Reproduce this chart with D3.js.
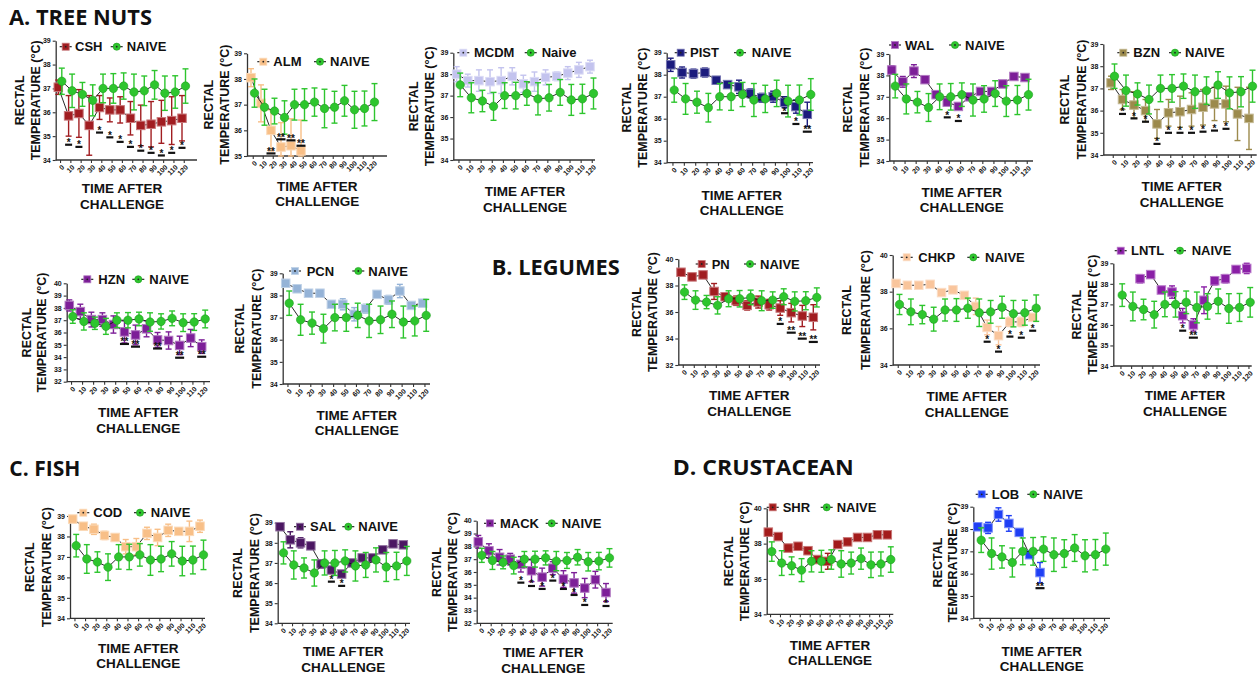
<!DOCTYPE html>
<html><head><meta charset="utf-8">
<script src="https://cdn.jsdelivr.net/npm/d3@7"></script>
<style>
body{margin:0;background:#fff}
svg{display:block}
text{font-family:'Liberation Sans',Arial,Helvetica,sans-serif;font-weight:bold;fill:#111}
.sec{font-family:'Open Sans','Noto Sans',sans-serif;font-weight:bold}
</style>
</head><body>
<svg id="c" width="1260" height="677"></svg>
<script>
// ---------- DATA ----------
const TIMES = [0,10,20,30,40,50,60,70,80,90,100,110,120];
const TIME_TICK_LABELS = TIMES.map(String);

const NAIVE_MEAN = [37.5,36.9,36.75,36.5,37.0,37.0,37.1,36.85,36.9,37.15,36.8,36.85,37.1];
const NAIVE_ERR  = [0.55,0.7,0.5,0.65,0.6,0.62,0.55,0.75,0.62,0.6,0.72,0.68,0.72];
// naive value at t=0 as read in each panel (order of PANEL_KEYS)
const PANEL_KEYS = ['CSH','ALM','MCDM','PIST','WAL','BZN','HZN','PCN','PN','CHKP','LNTL','COD','SAL','MACK','SHR','LOB'];
const NAIVE_AT_0 = [37.3,37.45,37.5,37.3,37.5,37.55,37.3,37.65,37.5,37.3,37.45,37.55,37.5,37.3,37.55,37.5];

const CSH_MEAN = [37.05,35.85,35.95,35.45,36.2,36.1,36.1,35.75,35.45,35.5,35.6,35.65,35.75];
const CSH_ERR  = [0.3,0.85,1.0,1.25,0.5,0.5,0.55,0.7,0.85,0.95,0.9,1.0,0.95];
const CSH_SIG  = [[1,'*',34.64],[2,'*',34.55],[4,'*',35.15],[5,'*',34.95],[6,'*',34.76],[7,'*',34.55],[8,'*',34.39],[9,'*',34.3],[10,'*',34.19],[11,'*',34.3],[12,'*',34.51]];

const ALM_MEAN = [38.05,37.05,36.0,35.35,35.4,35.2,null,null,null,null,null,null,null];
const ALM_ERR  = [0.35,0.72,0.8,0.95,1.05,1.2,null,null,null,null,null,null,null];
const ALM_SIG  = [[2,'**',35.1],[3,'**',35.65],[4,'**',35.61],[5,'**',35.4]];

const MCDM_MEAN = [38.0,37.7,37.7,37.65,37.7,37.9,37.55,37.65,37.85,37.9,38.05,38.2,38.35];
const MCDM_ERR  = [0.35,0.3,0.5,0.55,0.6,0.4,0.4,0.45,0.35,0.2,0.3,0.35,0.3];
const MCDM_SIG  = [];

const PIST_MEAN = [38.45,38.1,38.05,38.1,37.75,37.55,37.45,37.15,36.95,37.0,36.75,36.55,36.2];
const PIST_ERR  = [0.3,0.25,0.2,0.2,0.1,0.15,0.3,0.2,0.2,0.25,0.25,0.3,0.55];
const PIST_SIG  = [[10,'*',36.25],[11,'*',35.76],[12,'**',35.41]];

const WAL_MEAN = [38.25,37.7,38.2,37.8,37.1,36.75,36.55,37.0,37.25,37.25,37.6,37.95,37.9];
const WAL_ERR  = [0.2,0.25,0.3,0.1,0.15,0.1,0.1,0.15,0.1,0.1,0.15,0.1,0.1];
const WAL_SIG  = [[5,'*',36.04],[6,'*',35.87]];

const BZN_MEAN = [37.25,36.5,36.25,36.0,35.4,35.9,35.95,36.05,36.15,36.3,36.3,35.85,35.65];
const BZN_ERR  = [0.3,0.45,0.6,0.5,0.65,0.6,0.7,0.75,0.8,0.75,0.8,1.2,1.4];
const BZN_SIG  = [[1,'*',35.85],[2,'*',35.65],[3,'*',35.5],[4,'*',34.5],[5,'*',35.0],[6,'*',35.0],[7,'*',35.0],[8,'*',35.05],[9,'*',35.1],[10,'*',35.18]];

const HZN_MEAN = [38.2,37.7,37.05,37.05,36.65,36.05,35.8,36.3,35.4,35.35,34.95,35.55,34.85];
const HZN_ERR  = [0.45,0.6,0.6,0.55,0.7,0.9,0.8,0.65,0.6,0.7,0.75,0.7,0.55];
const HZN_SIG  = [[5,'**',35.07],[6,'**',34.85],[8,'**',34.7],[10,'**',33.95],[12,'**',34.03]];

const PCN_MEAN = [38.55,38.3,38.1,38.1,37.6,37.6,37.15,37.4,38.05,37.8,38.2,37.55,37.65];
const PCN_ERR  = [0.1,0.1,0.1,0.15,0.15,0.25,0.3,0.2,0.05,0.2,0.3,0.05,0.05];
const PCN_SIG  = [];

const PN_MEAN = [39.0,38.65,38.8,37.55,37.15,36.85,36.5,36.75,36.55,36.3,35.95,35.7,35.6];
const PN_ERR  = [0.15,0.15,0.15,0.6,0.15,0.35,0.35,0.45,0.4,0.55,0.7,0.8,0.95];
const PN_SIG  = [[9,'*',35.1],[10,'**',34.44],[11,'**',33.99],[12,'**',33.74]];

const CHKP_MEAN = [38.45,38.35,38.35,38.4,37.95,38.1,37.8,37.2,36.05,35.6,36.35,36.35,36.6];
const CHKP_ERR  = [0.05,0.1,0.1,0.1,0.1,0.1,0.1,0.45,0.4,0.5,0.25,0.25,0.15];
const CHKP_SIG  = [[8,'*',35.27],[9,'*',34.73],[10,'*',35.55],[11,'*',35.49],[12,'*',35.87]];

const LNTL_MEAN = [null,null,38.25,38.45,37.7,37.6,36.45,36.0,37.2,38.15,38.25,38.7,38.75];
const LNTL_ERR  = [null,null,0.2,0.1,0.05,0.3,0.35,0.3,0.65,0.2,0.2,0.15,0.25];
const LNTL_SIG  = [[6,'*',35.72],[7,'**',35.38]];

const COD_MEAN = [38.85,38.5,38.35,38.05,37.95,37.5,37.5,38.15,37.95,38.3,38.25,38.25,38.5];
const COD_ERR  = [0.05,0.1,0.25,0.2,0.1,0.35,0.4,0.3,0.4,0.3,0.15,0.5,0.3];
const COD_SIG  = [];

const SAL_MEAN = [38.8,38.15,38.0,37.85,36.95,36.65,36.45,37.0,37.25,37.25,37.65,37.95,37.9];
const SAL_ERR  = [0.15,0.4,0.25,0.15,0.2,0.1,0.15,0.1,0.1,0.1,0.15,0.1,0.1];
const SAL_SIG  = [[5,'*',36.07],[6,'*',35.86]];

const MACK_MEAN = [38.35,37.65,37.15,37.0,36.6,36.1,35.6,36.3,35.45,35.15,34.75,35.4,34.4];
const MACK_ERR  = [0.5,0.55,0.6,0.45,0.6,0.85,0.7,0.5,0.65,0.8,0.75,0.65,0.7];
const MACK_SIG  = [[4,'*',35.17],[5,'*',34.91],[6,'*',34.68],[7,'*',35.33],[8,'*',34.68],[9,'*',34.21],[10,'*',33.43],[12,'*',33.35]];

const SHR_MEAN = [38.65,38.4,37.75,37.85,37.6,37.1,37.0,37.95,38.1,38.35,38.35,38.5,38.5];
const SHR_ERR  = [0.05,0.05,0.15,0.2,0.15,0.15,0.45,0.05,0.15,0.15,0.05,0.05,0.05];
const SHR_SIG  = [];

const LOB_MEAN = [38.1,38.05,38.65,38.25,37.85,36.85,36.05,null,null,null,null,null,null];
const LOB_ERR  = [0.1,0.25,0.3,0.35,0.1,0.15,0.45,null,null,null,null,null,null];
const LOB_SIG  = [[6,'**',35.35]];

const SECTION_TITLES = ['A. TREE NUTS','B. LEGUMES','C. FISH','D. CRUSTACEAN'];

// ---------- LAYOUT / STYLE ----------
const GREEN = '#2ec52e', GREEN_EDGE = '#1f9f1f';
const PANELS = [
 {key:'CSH', mean:CSH_MEAN, err:CSH_ERR, sig:CSH_SIG, color:'#a11d21', naiveName:'NAIVE', dom:[34,39], step:1,
  ax:55.7, top:40.7, bot:160, x0:58.3, x1:182, axEnd:197, leg:{y:46.7,m1:65.7,t1:75,m2:116.7,t2:126.7}, tx:122, ty:188.7, yl:[20,36]},
 {key:'ALM', mean:ALM_MEAN, err:ALM_ERR, sig:ALM_SIG, color:'#f8bf87', naiveName:'NAIVE', dom:[35,39], step:1,
  ax:247, top:53.3, bot:156, x0:251, x1:371, axEnd:387, leg:{y:61.7,m1:263.3,t1:273.3,m2:320,t2:330}, tx:317.3, ty:186.3, yl:[209,225]},
 {key:'MCDM', mean:MCDM_MEAN, err:MCDM_ERR, sig:MCDM_SIG, color:'#c3c3ee', naiveName:'Naive', dom:[34,39], step:1,
  ax:453.3, top:52.7, bot:160, x0:456.7, x1:590, axEnd:595, leg:{y:52.7,m1:463.3,t1:474,m2:530.7,t2:541.7}, tx:525, ty:191.7, yl:[414,430]},
 {key:'PIST', mean:PIST_MEAN, err:PIST_ERR, sig:PIST_SIG, color:'#1b1b7d', naiveName:'NAIVE', dom:[34,39], step:1,
  ax:666.7, top:52.7, bot:162.7, x0:670.7, x1:807.3, axEnd:813, leg:{y:52.7,m1:680.7,t1:690,m2:740,t2:751.7}, tx:741.7, ty:195, yl:[626.7,643]},
 {key:'WAL', mean:WAL_MEAN, err:WAL_ERR, sig:WAL_SIG, color:'#7d1f98', naiveName:'NAIVE', dom:[34,39], step:1,
  ax:889.3, top:54, bot:161, x0:891.7, x1:1025, axEnd:1033, leg:{y:45,m1:895,t1:905,m2:955,t2:965}, tx:961.7, ty:192.3, yl:[848,865]},
 {key:'BZN', mean:BZN_MEAN, err:BZN_ERR, sig:BZN_SIG, color:'#9c8a4c', naiveName:'NAIVE', dom:[34,39], step:1,
  ax:1103.3, top:44, bot:155, x0:1111, x1:1249, axEnd:1256.7, leg:{y:52.7,m1:1123.3,t1:1133.3,m2:1175,t2:1185}, tx:1181.7, ty:186.7, yl:[1065,1081.7]},
 {key:'HZN', mean:HZN_MEAN, err:HZN_ERR, sig:HZN_SIG, color:'#7d1f98', naiveName:'NAIVE', dom:[32,40], step:1,
  ax:66.7, top:283.3, bot:381.7, x0:69.3, x1:201.7, axEnd:210, leg:{y:279.3,m1:87.3,t1:98.3,m2:138.3,t2:149.3}, tx:138.3, ty:412.7, yl:[26.7,41.7]},
 {key:'PCN', mean:PCN_MEAN, err:PCN_ERR, sig:PCN_SIG, color:'#95b3d7', naiveName:'NAIVE', dom:[34,39], step:1,
  ax:282.7, top:273.3, bot:384, x0:285.7, x1:422.7, axEnd:430, leg:{y:271,m1:295,t1:306.7,m2:358.3,t2:368.3}, tx:356.7, ty:415, yl:[240,256.7]},
 {key:'PN', mean:PN_MEAN, err:PN_ERR, sig:PN_SIG, color:'#a11d21', naiveName:'NAIVE', dom:[32,40], step:2,
  ax:678.3, top:259, bot:365, x0:681, x1:813.3, axEnd:820, leg:{y:264,m1:701.7,t1:711.7,m2:750,t2:760}, tx:749.3, ty:395.7, yl:[636.7,653.3]},
 {key:'CHKP', mean:CHKP_MEAN, err:CHKP_ERR, sig:CHKP_SIG, color:'#f9c59c', naiveName:'NAIVE', dom:[34,40], step:2,
  ax:892.7, top:255, bot:365, x0:896, x1:1032.7, axEnd:1040, leg:{y:257.3,m1:906.7,t1:918.3,m2:973.3,t2:985}, tx:966.7, ty:396.7, yl:[847,866]},
 {key:'LNTL', mean:LNTL_MEAN, err:LNTL_ERR, sig:LNTL_SIG, color:'#8a1fa6', naiveName:'NAIVE', dom:[34,39], step:1,
  ax:1113.3, top:263.3, bot:366, x0:1118.7, x1:1246.7, axEnd:1251.7, leg:{y:250.7,m1:1120.7,t1:1131,m2:1180,t2:1191.7}, tx:1185, ty:395.7, yl:[1076.7,1093.3]},
 {key:'COD', mean:COD_MEAN, err:COD_ERR, sig:COD_SIG, color:'#f8bf87', naiveName:'NAIVE', dom:[34,39], step:1,
  ax:70, top:516, bot:618.3, x0:72.7, x1:200, axEnd:205, leg:{y:512.7,m1:83.3,t1:93.3,m2:140,t2:150.7}, tx:138.3, ty:648.3, yl:[30,46.7]},
 {key:'SAL', mean:SAL_MEAN, err:SAL_ERR, sig:SAL_SIG, color:'#4b1762', naiveName:'NAIVE', dom:[34,39], step:1,
  ax:277.7, top:522.7, bot:623.3, x0:280, x1:403.3, axEnd:410, leg:{y:526.7,m1:300,t1:310,m2:348.3,t2:358.3}, tx:343.3, ty:651.7, yl:[238.3,255]},
 {key:'MACK', mean:MACK_MEAN, err:MACK_ERR, sig:MACK_SIG, color:'#7d1f98', naiveName:'NAIVE', dom:[32,40], step:1,
  ax:476.7, top:520.7, bot:623.3, x0:478.3, x1:606, axEnd:612.7, leg:{y:523.3,m1:490,t1:500,m2:551.7,t2:561.7}, tx:543.3, ty:652.7, yl:[437.3,453.3]},
 {key:'SHR', mean:SHR_MEAN, err:SHR_ERR, sig:SHR_SIG, color:'#a31b1b', naiveName:'NAIVE', dom:[34,40], step:2,
  ax:766.7, top:508.3, bot:614.3, x0:768.3, x1:887.3, axEnd:893.3, leg:{y:507.3,m1:772.7,t1:782.7,m2:826.7,t2:836.7}, tx:830, ty:645, yl:[729.3,745]},
 {key:'LOB', mean:LOB_MEAN, err:LOB_ERR, sig:LOB_SIG, color:'#1f3ff5', naiveName:'NAIVE', dom:[34,39], step:1,
  ax:973.3, top:506.7, bot:618.3, x0:977.7, x1:1102.3, axEnd:1110, leg:{y:494.3,m1:981.7,t1:991.7,m2:1033.3,t2:1043.3}, tx:1041.7, ty:651, yl:[938.3,953.3]}
];
const SECTION_POS = [{x:9,y:25,w:143},{x:491.7,y:275,w:128},{x:9.3,y:475.5,w:71},{x:672.7,y:474.5,w:181}];

// ---------- DRAW ----------
const svg = d3.select('#c');
svg.append('rect').attr('width',1260).attr('height',677).attr('fill','#fff');

SECTION_TITLES.forEach((t,i)=>{
  const s = SECTION_POS[i];
  svg.append('text').attr('class','sec').attr('x',s.x).attr('y',s.y)
    .attr('font-size',21).attr('textLength',s.w).attr('lengthAdjust','spacingAndGlyphs').text(t);
});

const OFF = 3.5;      // naive series dodge
const SQ = 8.5, CR = 4.2, CAP = 3;

PANELS.forEach((p,pi)=>{
  const g = svg.append('g');
  const naive = NAIVE_MEAN.map((v,i)=> i===0 ? NAIVE_AT_0[PANEL_KEYS.indexOf(p.key)] : v);
  const y = d3.scaleLinear().domain(p.dom).range([p.bot,p.top]);
  const x = d3.scaleLinear().domain([0,120]).range([p.x0,p.x1]);
  const xt = d3.scaleLinear().domain([0,120]).range([p.x0+OFF/2,p.x1+OFF/2]);
  const clampY = v => y(Math.max(p.dom[0], Math.min(p.dom[1], v)));

  // y axis
  const ticks = d3.range(p.dom[0], p.dom[1]+0.001, p.step);
  const ya = g.append('g').attr('transform',`translate(${p.ax},0)`)
    .call(d3.axisLeft(y).tickValues(ticks).tickSize(3).tickSizeOuter(0).tickPadding(2).tickFormat(d3.format('d')));
  ya.select('.domain').attr('stroke','#333').attr('stroke-width',1.3);
  ya.selectAll('.tick line').attr('stroke','#333').attr('stroke-width',1.1);
  ya.selectAll('.tick text').attr('font-size',7).attr('font-family',"'Liberation Sans',Arial,sans-serif").attr('font-weight','bold').attr('fill','#222');

  // x axis
  const xa = g.append('g').attr('transform',`translate(0,${p.bot})`)
    .call(d3.axisBottom(xt).tickValues(TIMES).tickSize(3).tickSizeOuter(0).tickFormat((d,i)=>TIME_TICK_LABELS[i]));
  xa.select('.domain').remove();
  xa.append('line').attr('x1',p.ax).attr('x2',p.axEnd).attr('y1',0).attr('y2',0).attr('stroke','#333').attr('stroke-width',1.3);
  xa.selectAll('.tick line').attr('stroke','#333').attr('stroke-width',1.1);
  xa.selectAll('.tick text').attr('font-size',7).attr('font-family',"'Liberation Sans',Arial,sans-serif").attr('font-weight','bold').attr('fill','#222')
    .attr('text-anchor','end').attr('dy',null).attr('y',null)
    .attr('transform','translate(2.5,6) rotate(-45)').attr('dominant-baseline','central');

  // titles
  g.append('text').attr('x',p.tx).attr('y',p.ty).attr('text-anchor','middle').attr('dominant-baseline','central').attr('font-size',13.5).text('TIME AFTER');
  g.append('text').attr('x',p.tx).attr('y',p.ty+15.5).attr('text-anchor','middle').attr('dominant-baseline','central').attr('font-size',13.5).text('CHALLENGE');
  const cy = (p.top+p.bot)/2;
  g.append('text').attr('transform',`translate(${p.yl[0]},${cy}) rotate(-90)`).attr('text-anchor','middle').attr('dominant-baseline','central').attr('font-size',12.5).text('RECTAL');
  g.append('text').attr('transform',`translate(${p.yl[1]},${cy}) rotate(-90)`).attr('text-anchor','middle').attr('dominant-baseline','central').attr('font-size',12.5).text('TEMPERATURE (°C)');

  // series drawing helper
  function series(vals, errs, xs, color, shape){
    const idx = vals.map((v,i)=>i).filter(i=>vals[i]!=null);
    const eb = g.append('g').attr('stroke',color).attr('stroke-width',1.4);
    idx.forEach(i=>{
      const cx = xs(TIMES[i]);
      const a = clampY(vals[i]+errs[i]), b = clampY(vals[i]-errs[i]);
      eb.append('line').attr('x1',cx).attr('x2',cx).attr('y1',a).attr('y2',b);
      eb.append('line').attr('x1',cx-CAP).attr('x2',cx+CAP).attr('y1',a).attr('y2',a);
      eb.append('line').attr('x1',cx-CAP).attr('x2',cx+CAP).attr('y1',b).attr('y2',b);
    });
    const line = d3.line().x(i=>xs(TIMES[i])).y(i=>y(vals[i]));
    g.append('path').attr('d',line(idx)).attr('fill','none').attr('stroke','#111').attr('stroke-width',0.9);
    idx.forEach(i=>{
      const cx = xs(TIMES[i]), cyy = y(vals[i]);
      if(shape==='sq'){
        g.append('rect').attr('x',cx-SQ/2).attr('y',cyy-SQ/2).attr('width',SQ).attr('height',SQ)
          .attr('fill',color).attr('stroke',d3.interpolateRgb(color,'#fff')(0.4)).attr('stroke-width',1);
      } else {
        g.append('circle').attr('cx',cx).attr('cy',cyy).attr('r',CR).attr('fill',GREEN).attr('stroke',GREEN_EDGE).attr('stroke-width',0.6);
      }
    });
  }
  series(p.mean, p.err, x, p.color, 'sq');
  series(naive, NAIVE_ERR, t=>x(t)+OFF, GREEN, 'ci');

  // significance
  p.sig.forEach(([i,lab,v])=>{
    const cx = x(TIMES[i]), by = y(v);
    const w = lab.length>1 ? 9 : 7;
    g.append('rect').attr('x',cx-w/2).attr('y',by-1.1).attr('width',w).attr('height',2.2).attr('fill','#111');
    g.append('text').attr('x',cx).attr('y',by+1.5).attr('text-anchor','middle').attr('font-size',10).attr('fill','#333').text(lab);
  });

  // legend
  const L = p.leg;
  [[L.m1,'sq',p.color,p.key,L.t1],[L.m2,'ci',GREEN,p.naiveName,L.t2]].forEach(([m,shape,color,label,t])=>{
    g.append('line').attr('x1',m-6).attr('x2',m+6).attr('y1',L.y).attr('y2',L.y).attr('stroke','#111').attr('stroke-width',1.1);
    if(shape==='sq') g.append('rect').attr('x',m-3.5).attr('y',L.y-3.5).attr('width',7).attr('height',7).attr('fill',color).attr('stroke',d3.interpolateRgb(color,'#fff')(0.4)).attr('stroke-width',0.8);
    else g.append('circle').attr('cx',m).attr('cy',L.y).attr('r',3.6).attr('fill',GREEN).attr('stroke',GREEN_EDGE).attr('stroke-width',0.6);
    g.append('circle').attr('cx',m).attr('cy',L.y).attr('r',0.9).attr('fill','#222');
    g.append('text').attr('x',t).attr('y',L.y).attr('dominant-baseline','central').attr('font-size',13).text(label);
  });
});
</script>
</body></html>
